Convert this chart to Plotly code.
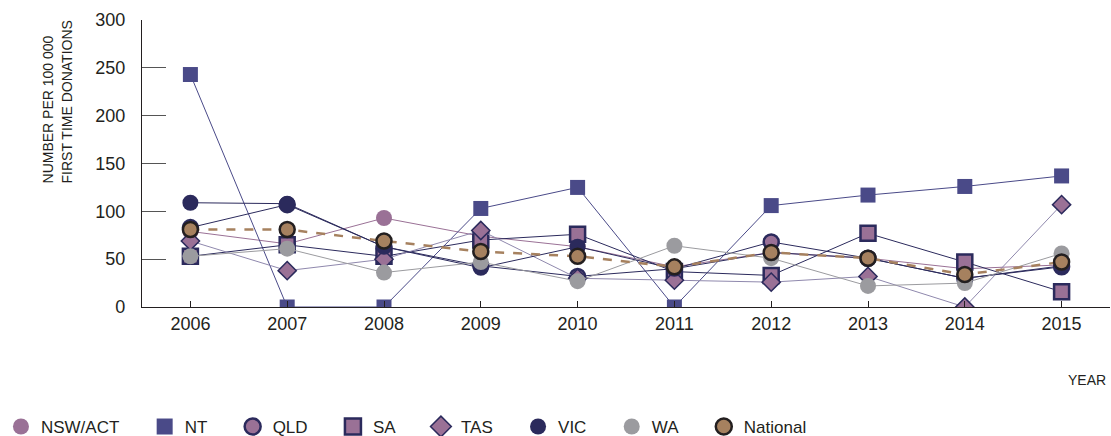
import plotly.graph_objects as go

years = [2006, 2007, 2008, 2009, 2010, 2011, 2012, 2013, 2014, 2015]
nsw_act = [79, 66, 93, 74, 63, 42, 57, 51, 40, 44]
nt = [243, 0, 0, 103, 125, 0, 106, 117, 126, 137]
qld = [83, 107, 63, 43, 32, 40, 68, 51, 30, 42]
sa = [53, 65, 53, 70, 76, 37, 33, 77, 47, 16]
tas = [69, 38, 50, 80, 30, 28, 26, 32, 0, 107]
vic = [109, 108, 63, 41, 63, 40, 57, 51, 30, 43]
wa = [53, 61, 36, 47, 27, 64, 51, 22, 25, 56]
national = [81, 81, 69, 58, 53, 42, 57, 51, 34, 47]

DARK = "#2b2a5c"
MAUVE = "#9a7196"
NTBLUE = "#4a4a88"
GRAY = "#9b9b9f"
BROWN = "#a6815f"
TASLINE = "#8f88ad"

series = [
    ("NSW/ACT", nsw_act, dict(symbol="circle", size=16, color=MAUVE, line=dict(width=0)), dict(color=MAUVE, width=1)),
    ("NT", nt, dict(symbol="square", size=15, color=NTBLUE, line=dict(width=0)), dict(color=NTBLUE, width=1)),
    ("QLD", qld, dict(symbol="circle", size=15, color=MAUVE, line=dict(color=DARK, width=2.5)), dict(color=DARK, width=1)),
    ("SA", sa, dict(symbol="square", size=15, color=MAUVE, line=dict(color=DARK, width=2.5)), dict(color=DARK, width=1)),
    ("TAS", tas, dict(symbol="diamond", size=14, color=MAUVE, line=dict(color=DARK, width=1.5)), dict(color=TASLINE, width=1)),
    ("VIC", vic, dict(symbol="circle", size=16, color=DARK, line=dict(width=0)), dict(color=DARK, width=1)),
    ("WA", wa, dict(symbol="circle", size=16, color=GRAY, line=dict(width=0)), dict(color=GRAY, width=1)),
    ("National", national, dict(symbol="circle", size=15, color=BROWN, line=dict(color="#231f20", width=2.5)), dict(color=BROWN, width=2.5, dash="dash")),
]

PAD = "\u00a0" * 4 + "\u200a"
fig = go.Figure()
for name, vals, mk, ln in series:
    fig.add_trace(go.Scatter(x=years, y=vals, mode="lines+markers", name=name,
                             marker=mk, line=ln, showlegend=False))
for name, vals, mk, ln in series:
    lm = dict(mk)
    lm["size"] = 16
    fig.add_trace(go.Scatter(x=[None], y=[None], mode="markers", name=name + PAD,
                             marker=lm, showlegend=True))

fig.update_layout(
    width=1111, height=436,
    margin=dict(l=142, r=1, t=20, b=129, autoexpand=False),
    paper_bgcolor="white", plot_bgcolor="white",
    font=dict(family="Liberation Sans, Arial, sans-serif", color="#231f20", size=18),
    legend=dict(orientation="h", x=-0.1457, xanchor="left", y=-0.418, yanchor="middle",
                font=dict(size=17), itemclick=False, tracegroupgap=0),
    xaxis=dict(range=[2005.5, 2015.5], tickmode="array", tickvals=years,
               ticktext=[str(y) for y in years], showgrid=False, zeroline=False,
               showline=True, linecolor="#231f20", linewidth=1.2,
               ticks="inside", ticklen=6, tickcolor="#231f20", tickfont=dict(size=18)),
    yaxis=dict(range=[0, 300], tickvals=[0, 50, 100, 150, 200, 250, 300],
               showgrid=False, zeroline=False, showline=True, linecolor="#231f20",
               linewidth=1.2, ticks="inside", ticklen=24, tickcolor="#555555",
               ticklabelstandoff=12, tickfont=dict(size=18)),
)

fig.add_annotation(text="NUMBER PER 100 000<br>FIRST TIME DONATIONS", textangle=-90,
                   xref="paper", yref="paper", x=-0.0868, xanchor="center",
                   y=1.007, yanchor="top", align="left", showarrow=False,
                   font=dict(size=14))
fig.add_annotation(text="YEAR", xref="paper", yref="paper", x=0.998, xanchor="right",
                   y=-0.254, yanchor="middle", showarrow=False, font=dict(size=14))

fig.write_html("out.html", config={"displayModeBar": False},
               post_script="document.body.style.margin='0px';")
